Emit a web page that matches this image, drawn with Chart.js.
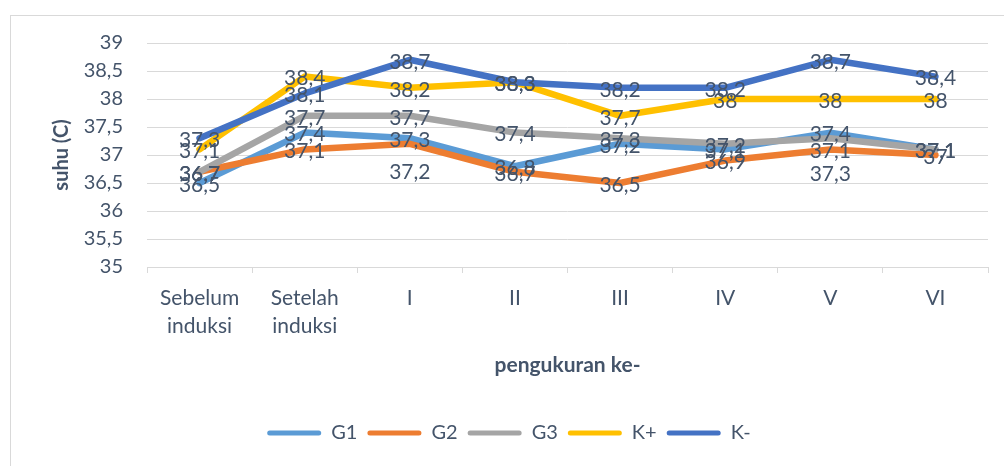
<!DOCTYPE html>
<html lang="id">
<head>
<meta charset="UTF-8">
<title>Suhu</title>
<script src="https://cdn.jsdelivr.net/npm/chart.js"></script>
<style>
  body { margin: 0; background: #fff; }
  #wrap { position: relative; width: 1004px; height: 466px; overflow: hidden; }
  #frame { position: absolute; left: 10px; top: 15px; width: 1100px; height: 600px;
           border-left: 1px solid #d9d9d9; border-top: 1px solid #d9d9d9; pointer-events: none; }
  canvas { position: absolute; left: 0; top: 0; }
</style>
</head>
<body>
<div id="wrap">
  <div id="frame"></div>
  <canvas id="chart" width="1004" height="466"></canvas>
</div>
<script>
// kategori pengukuran
const labels = [['Sebelum', 'induksi'], ['Setelah', 'induksi'], 'I', 'II', 'III', 'IV', 'V', 'VI'];

// suhu tiap kelompok
const g1 = [36.5, 37.4, 37.3, 36.8, 37.2, 37.1, 37.4, 37.1];
const g2 = [36.7, 37.1, 37.2, 36.7, 36.5, 36.9, 37.1, 37];
const g3 = [36.7, 37.7, 37.7, 37.4, 37.3, 37.2, 37.3, 37.1];
const kPlus = [37.1, 38.4, 38.2, 38.3, 37.7, 38, 38, 38];
const kMin = [37.3, 38.1, 38.7, 38.3, 38.2, 38.2, 38.7, 38.4];

const textColor = '#44546a';
const gridColor = '#d9d9d9';
const fontName = 'Lato';

// label yang digeser ke bawah (dataset index -> titik -> px)
const labelShift = { 1: { 2: 26 }, 2: { 6: 34 } };

function koma(v) {
    return String(v).replace('.', ',');
}

const dataLabels = {
    id: 'dataLabels',
    afterDatasetsDraw(chart) {
        const ctx = chart.ctx;
        ctx.save();
        ctx.font = '21px ' + fontName;
        ctx.fillStyle = textColor;
        ctx.textAlign = 'center';
        ctx.textBaseline = 'middle';
        chart.data.datasets.forEach((ds, i) => {
            const meta = chart.getDatasetMeta(i);
            meta.data.forEach((pt, j) => {
                const shift = (labelShift[i] && labelShift[i][j]) || 0;
                ctx.fillText(koma(ds.data[j]), pt.x, pt.y + 2 + shift);
            });
        });
        ctx.restore();
    }
};

function seri(label, data, color, order) {
    return {
        label: label,
        data: data,
        borderColor: color,
        backgroundColor: color,
        borderWidth: 6.5,
        pointRadius: 0,
        borderJoinStyle: 'round',
        borderCapStyle: 'round',
        tension: 0,
        order: order
    };
}

const ctx = document.getElementById('chart').getContext('2d');
new Chart(ctx, {
    type: 'line',
    data: {
        labels: labels,
        datasets: [
            seri('G1', g1, '#5b9bd5', 5),
            seri('G2', g2, '#ed7d31', 4),
            seri('G3', g3, '#a5a5a5', 3),
            seri('K+', kPlus, '#ffc000', 2),
            seri('K-', kMin, '#4472c4', 1)
        ]
    },
    options: {
        responsive: false,
        animation: false,
        layout: { padding: { left: 30, right: 16, top: 43, bottom: 13 } },
        plugins: {
            tooltip: { enabled: false },
            legend: {
                position: 'bottom',
                labels: {
                    color: textColor,
                    font: { family: fontName, size: 20 },
                    boxWidth: 54,
                    boxHeight: 5,
                    useBorderRadius: true,
                    borderRadius: 2.5,
                    padding: 10,
                    generateLabels(chart) {
                        return Chart.defaults.plugins.legend.labels.generateLabels(chart)
                            .map(l => Object.assign(l, { lineWidth: 0 }))
                            .sort((a, b) => a.datasetIndex - b.datasetIndex);
                    }
                }
            }
        },
        scales: {
            x: {
                offset: true,
                afterFit(scale) { scale.height = 146; },
                grid: { offset: true, drawOnChartArea: false, tickLength: 6, color: gridColor },
                border: { color: gridColor },
                ticks: {
                    color: textColor,
                    font: { family: fontName, size: 21, lineHeight: 1.34 },
                    padding: 11,
                    maxRotation: 0,
                    autoSkip: false
                },
                title: {
                    display: true,
                    text: 'pengukuran ke-',
                    color: textColor,
                    font: { family: fontName, size: 21, weight: 'bold' },
                    padding: { top: 0, bottom: 35 }
                }
            },
            y: {
                min: 35,
                max: 39,
                afterFit(scale) { scale.width = 117; },
                grid: { color: gridColor, drawTicks: false },
                border: { display: false },
                ticks: {
                    stepSize: 0.5,
                    color: textColor,
                    font: { family: fontName, size: 20 },
                    padding: 24,
                    callback: v => koma(v)
                },
                title: {
                    display: true,
                    text: 'suhu (C)',
                    color: textColor,
                    font: { family: fontName, size: 20, weight: 'bold' },
                    padding: { top: 20, bottom: 0 }
                }
            }
        }
    },
    plugins: [dataLabels]
});
</script>
</body>
</html>
